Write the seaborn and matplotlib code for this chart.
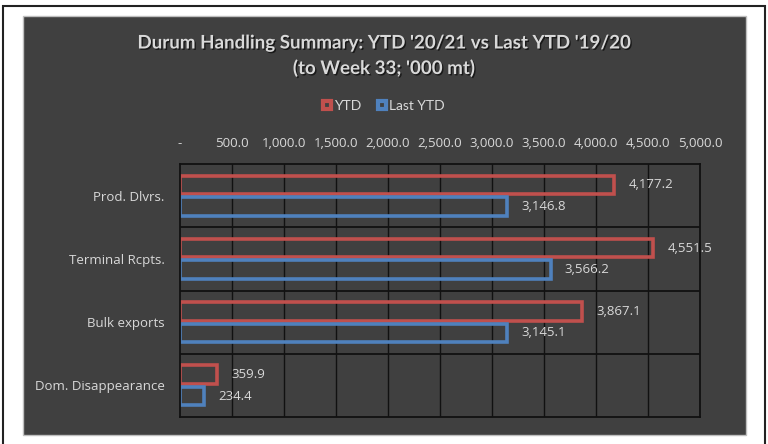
import pandas as pd
import matplotlib.pyplot as plt
import seaborn as sns
import matplotlib.patheffects as pe
from matplotlib.lines import Line2D
from matplotlib.patches import Rectangle
from matplotlib.ticker import FuncFormatter

# chart data
categories = ["Prod. Dlvrs.", "Terminal Rcpts.", "Bulk exports", "Dom. Disappearance"]
ytd = [4177.2, 4551.5, 3867.1, 359.9]
last_ytd = [3146.8, 3566.2, 3145.1, 234.4]
series_names = ["YTD", "Last YTD"]
x_ticks = [0, 500, 1000, 1500, 2000, 2500, 3000, 3500, 4000, 4500, 5000]

df = pd.DataFrame({
    "category": categories * 2,
    "series": [series_names[0]] * len(ytd) + [series_names[1]] * len(last_ytd),
    "value": ytd + last_ytd,
})

bg = "#404040"
txt = "#D9D9D9"
red = "#C0504D"
blue = "#4F81BD"
body_font = ["Open Sans", "DejaVu Sans"]

sns.set_theme(style="dark")
plt.rcParams["font.family"] = ["Lato", "DejaVu Sans"]

W, H = 768, 444
fig = plt.figure(figsize=(W / 100, H / 100), dpi=100, facecolor="white")

# outer frame and dark chart panel
fig.patches.append(Rectangle((2.5 / W, -0.05), (765 - 2.5) / W, (H - 6) / H + 0.05,
                             transform=fig.transFigure, facecolor="white",
                             edgecolor="#222222", linewidth=1.5, zorder=-3))
fig.patches.append(Rectangle((22.5 / W, (H - 434.5) / H), (745.5 - 22.5) / W, (434.5 - 16.5) / H,
                             transform=fig.transFigure, facecolor=bg,
                             edgecolor="#BFBFBF", linewidth=1, zorder=-2))

ax = fig.add_axes([180 / W, (H - 417) / H, 520 / W, 253 / H])
ax.set_facecolor(bg)

sns.barplot(data=df, y="category", x="value", hue="series", orient="h",
            palette=[red, blue], fill=False, linewidth=2.6, width=0.68, gap=0.13,
            legend=False, ax=ax)

# value labels
for cont in ax.containers:
    ax.bar_label(cont, labels=[f"{v:,.1f}" for v in cont.datavalues],
                 padding=10, color=txt, fontsize=9.5, family=body_font)

ax.set_xlim(0, 5000)
ax.set_ylim(len(categories) - 0.5, -0.5)
ax.set_xticks(x_ticks)
ax.xaxis.set_major_formatter(FuncFormatter(lambda v, p: "-" if v == 0 else f"{v:,.1f}"))
ax.xaxis.tick_top()
ax.tick_params(axis="x", length=0, pad=10, colors=txt, labelsize=9.5)
ax.tick_params(axis="y", length=0, pad=11, colors=txt, labelsize=9.5)
for lab in ax.get_xticklabels() + ax.get_yticklabels():
    lab.set_family(body_font)
ax.set_xlabel("")
ax.set_ylabel("")

# grid: vertical at ticks, horizontal between categories
ax.grid(False)
for xv in x_ticks[1:]:
    ax.axvline(xv, color="#111111", linewidth=1, zorder=0)
for yv in [0.5, 1.5, 2.5]:
    ax.axhline(yv, color="#111111", linewidth=1.3, zorder=0)
for side in ["left", "top", "bottom", "right"]:
    ax.spines[side].set_visible(True)
    ax.spines[side].set_color("#111111")
    ax.spines[side].set_linewidth(1.3)

shadow = [pe.withSimplePatchShadow(offset=(1, -1), shadow_rgbFace="black", alpha=0.6)]
fig.text(0.5, 1 - 43 / H, "Durum Handling Summary: YTD '20/21 vs Last YTD '19/20",
         ha="center", va="center", color=txt, fontsize=13.5, fontweight="bold",
         path_effects=shadow)
fig.text(0.5, 1 - 68 / H, "(to Week 33; '000 mt)",
         ha="center", va="center", color=txt, fontsize=13.5, fontweight="bold",
         path_effects=shadow)

handles = [Line2D([], [], marker="s", linestyle="", markersize=6,
                  markerfacecolor=bg, markeredgecolor=c, markeredgewidth=3)
           for c in [red, blue]]
fig.legend(handles, series_names, loc="center", bbox_to_anchor=(0.5, 1 - 106 / H),
           ncol=2, frameon=False, fontsize=10, labelcolor=txt,
           handlelength=0.6, handletextpad=0.2, columnspacing=1.2)

fig.savefig("out.png", dpi=100, facecolor="white")
